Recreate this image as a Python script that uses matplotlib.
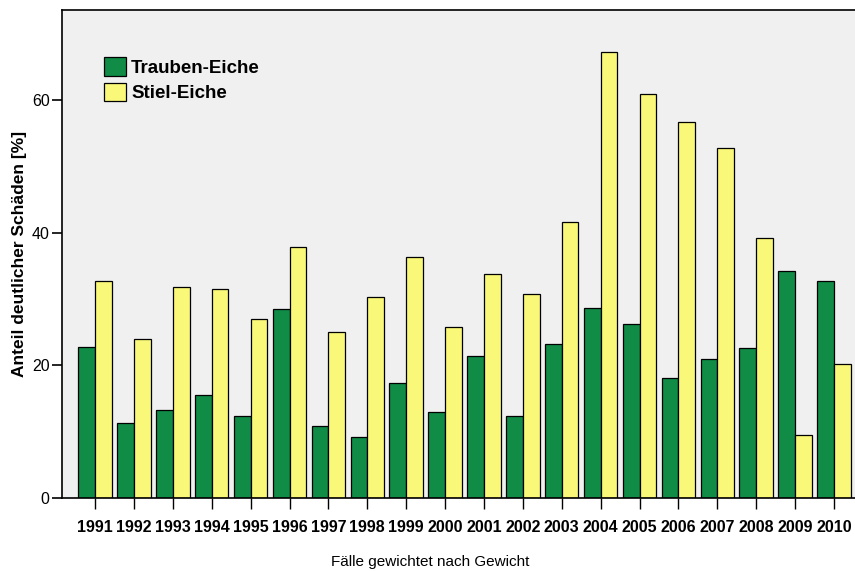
import numpy as np
import matplotlib
matplotlib.use("Agg")
import matplotlib.pyplot as plt

plt.rcParams['font.family'] = ['Liberation Sans', 'DejaVu Sans']

years = ['1991', '1992', '1993', '1994', '1995', '1996', '1997', '1998', '1999', '2000',
         '2001', '2002', '2003', '2004', '2005', '2006', '2007', '2008', '2009', '2010']
trauben = [22.8, 11.3, 13.3, 15.5, 12.4, 28.5, 10.9, 9.2, 17.4, 13.0,
           21.4, 12.4, 23.2, 28.6, 26.2, 18.1, 21.0, 22.6, 34.2, 32.7]
stiel = [32.7, 24.0, 31.8, 31.5, 27.0, 37.9, 25.1, 30.3, 36.4, 25.8,
         33.8, 30.8, 41.6, 67.2, 60.9, 56.7, 52.8, 39.2, 9.5, 20.2]
yticks = [0, 20, 40, 60]

green = '#108c46'
yellow = '#faf878'

fig = plt.figure(figsize=(8.55, 5.71), dpi=100)
ax = fig.add_axes([62 / 855, 73 / 571, 793 / 855, 488 / 571])
ax.set_facecolor('#f0f0f0')

x = np.arange(len(years))
w = 0.43
ax.bar(x - w / 2, trauben, w, color=green, edgecolor='black', linewidth=0.9,
       label='Trauben-Eiche', zorder=2)
ax.bar(x + w / 2, stiel, w, color=yellow, edgecolor='black', linewidth=0.9,
       label='Stiel-Eiche', zorder=2)

ax.set_xlim(-0.85, 19.54)
ax.set_ylim(0, 73.6)

ax.set_xticks(x)
ax.set_xticklabels(years, fontweight='bold', fontsize=11.5)
ax.tick_params(axis='x', length=8, width=1, pad=8, colors='black')
ax.set_yticks(yticks)
ax.set_yticklabels([str(t) for t in yticks], fontsize=11.5)
ax.tick_params(axis='y', length=7, width=1.2, pad=2)

ax.spines['right'].set_visible(False)
ax.spines['top'].set_linewidth(1.2)
ax.spines['left'].set_linewidth(1.2)
ax.spines['bottom'].set_linewidth(1.2)

ax.set_ylabel('Anteil deutlicher Schäden [%]', fontweight='bold', fontsize=12.5, labelpad=3)

ax.legend(loc='upper left', bbox_to_anchor=(0.053, 0.904), frameon=False,
          prop={'weight': 'bold', 'size': 13.5}, borderpad=0, borderaxespad=0,
          handlelength=1.17, handleheight=1.17, handletextpad=0.27, labelspacing=0.32)

fig.text(0.503, 1 - 562 / 571, 'Fälle gewichtet nach Gewicht', ha='center', va='center',
         fontsize=11)

fig.savefig('out.png', dpi=100)
